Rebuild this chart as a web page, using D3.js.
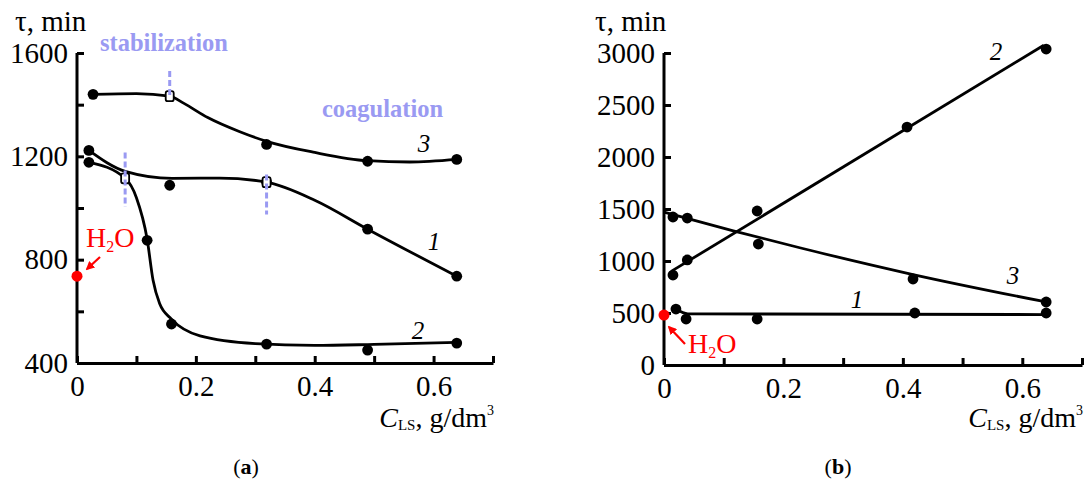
<!DOCTYPE html>
<html>
<head>
<meta charset="utf-8">
<script src="https://cdn.jsdelivr.net/npm/d3@7"></script>
<style>
body{margin:0;background:#fff;}
svg text{font-family:"Liberation Serif","Times New Roman",serif;}
</style>
</head>
<body>
<svg id="chart" width="1084" height="480" font-family="Liberation Serif, serif"></svg>
<script>
// ---- data ----
var xTicks=[0,0.1,0.2,0.3,0.4,0.5,0.6,0.7];
var xLabels=[0,0.2,0.4,0.6];
var yTicksA=[400,600,800,1000,1200,1400,1600];
var yLabelsA=[400,800,1200,1600];
var yTicksB=[0,500,1000,1500,2000,2500,3000];

// panel (a): measured points
var a1x=[0.020,0.156,0.319,0.489,0.639];
var a1y=[1223,1088,1100,918,736];
var a2x=[0.020,0.118,0.159,0.319,0.489,0.639];
var a2y=[1177,875,551,473,450,477];
var a3x=[0.027,0.319,0.489,0.639];
var a3y=[1440,1246,1181,1188];
// panel (a): smooth curves as drawn
var a1cx=[0.020,0.081,0.160,0.240,0.319,0.400,0.489,0.639];
var a1cy=[1223,1142,1115,1116,1100,1030,918,736];
var a2cx=[0.020,0.081,0.100,0.118,0.128,0.139,0.159,0.207,0.300,0.400,0.500,0.639];
var a2cy=[1177,1115,1040,880,720,630,570,505,475,468,472,480];
var a3cx=[0.027,0.100,0.156,0.180,0.220,0.274,0.319,0.400,0.489,0.560,0.639];
var a3cy=[1440,1443,1433,1405,1350,1295,1258,1215,1183,1178,1188];
// open squares = transition points (stabilization -> coagulation)
var sqx=[0.081,0.156,0.319];
var sqy=[1115,1433,1100];
var dashTop=[1215,1530,1130];
var dashBot=[1005,1430,975];

// panel (b): measured points
var b1x=[0.020,0.037,0.156,0.420,0.640];
var b1y=[538,442,442,500,500];
var b2x=[0.015,0.039,0.156,0.407,0.640];
var b2y=[865,1010,1481,2288,3038];
var b3x=[0.015,0.039,0.158,0.417,0.640];
var b3y=[1423,1413,1163,827,606];
// panel (b): fitted lines as drawn
var b1cx=[0.020,0.040,0.640];
var b1cy=[538,492,485];
var b2cx=[0.012,0.636];
var b2cy=[900,3075];
var b3cx=[0.000,0.116,0.229,0.417,0.640];
var b3cy=[1470,1290,1125,870,606];

var waterA=736, waterB=480;

var svg=d3.select("#chart");
var lav="#9a9af2";
var serif="'Liberation Serif','Times New Roman',serif";

var xA=d3.scaleLinear().domain([0,0.7]).range([77,493]);
var yA=d3.scaleLinear().domain([400,1600]).range([363,53]);
var xB=d3.scaleLinear().domain([0,0.7]).range([664,1082]);
var yB=d3.scaleLinear().domain([0,3000]).range([365,53]);

function fmt(v){
	return v==0?"0":(""+v);
}

//draws both axes of a panel with inward ticks
function drawAxes(x,y,yT,yL,y0){
	var gx=svg.append("g").attr("transform","translate(0,"+y0+")")
		.call(d3.axisBottom(x).tickValues(xTicks).tickSize(-7).tickSizeOuter(0).tickPadding(10)
		.tickFormat(function(d){return xLabels.some(function(v){return Math.abs(v-d)<1e-9;})?fmt(d):"";}));
	var gy=svg.append("g").attr("transform","translate("+x(0)+",0)")
		.call(d3.axisLeft(y).tickValues(yT).tickSize(-7).tickSizeOuter(0).tickPadding(9)
		.tickFormat(function(d){return yL.indexOf(d)>=0?d:"";}));
	[gx,gy].forEach(function(g){
		g.attr("font-family",serif);
		g.select(".domain").attr("stroke","#000").attr("stroke-width",3);
		g.selectAll(".tick line").attr("stroke","#000").attr("stroke-width",3);
		g.selectAll("text").attr("fill","#000").style("font-size","29px")
			.style("font-family",serif);
	});
	gx.selectAll("text").attr("dy","0.78em");
	// y axis goes from x axis to top tick
	gy.select(".domain").attr("d","M0,"+y0+"V"+y.range()[1]);
}

function curve(x,y,xs,ys,c){
	var pts=xs.map(function(v,i){return [x(v),y(ys[i])];});
	svg.append("path").attr("d",d3.line().curve(c)(pts))
		.attr("fill","none").attr("stroke","#000").attr("stroke-width",2.8);
}

function dots(x,y,xs,ys){
	svg.append("g").selectAll("circle").data(xs).enter().append("circle")
		.attr("cx",function(d){return x(d);})
		.attr("cy",function(d,i){return y(ys[i]);})
		.attr("r",5.4).attr("fill","#000");
}

function label(px,py,t){
	svg.append("text").attr("x",px).attr("y",py).text(t)
		.style("font-size","25px").style("font-style","italic").attr("text-anchor","middle");
}

function axisTitles(xr,yb,tx,ty){
	svg.append("text").attr("x",tx).attr("y",ty).text("τ, min").style("font-size","29px");
	var t=svg.append("text").attr("x",xr).attr("y",yb).attr("text-anchor","end").style("font-size","28px");
	t.append("tspan").text("C").style("font-style","italic");
	t.append("tspan").text("LS").style("font-size","15px").attr("dy","3");
	t.append("tspan").text(", g/dm").attr("dy","-3");
	t.append("tspan").text("3").style("font-size","14px").attr("dy","-12");
}

function water(px,py,lx,ly,ax1,ay1,ax2,ay2){
	svg.append("line").attr("x1",ax1).attr("y1",ay1).attr("x2",ax2).attr("y2",ay2)
		.attr("stroke","red").attr("stroke-width",2.2).attr("marker-end","url(#arr)");
	svg.append("circle").attr("cx",px).attr("cy",py).attr("r",5.5).attr("fill","red");
	var t=svg.append("text").attr("x",lx).attr("y",ly).attr("fill","red").style("font-size","28px");
	t.append("tspan").text("H");
	t.append("tspan").text("2").style("font-size","16px").attr("dy","5");
	t.append("tspan").text("O").attr("dy","-5");
}

svg.append("defs").append("marker").attr("id","arr").attr("viewBox","0 0 10 10")
	.attr("refX",8).attr("refY",5).attr("markerWidth",4).attr("markerHeight",4).attr("orient","auto")
	.append("path").attr("d","M0,0L10,5L0,10z").attr("fill","red");

// ---------- panel (a) ----------
drawAxes(xA,yA,yTicksA,yLabelsA,363);
axisTitles(494,427,15,31);
curve(xA,yA,a1cx,a1cy,d3.curveMonotoneX);
curve(xA,yA,a2cx,a2cy,d3.curveMonotoneX);
curve(xA,yA,a3cx,a3cy,d3.curveMonotoneX);
dots(xA,yA,a1x,a1y);
dots(xA,yA,a2x,a2y);
dots(xA,yA,a3x,a3y);
// transition squares and dashed markers
sqx.forEach(function(v,i){
	svg.append("rect").attr("x",xA(v)-4).attr("y",yA(sqy[i])-5).attr("width",8).attr("height",10)
		.attr("rx",2).attr("fill","#fff").attr("stroke","#000").attr("stroke-width",1.8);
	svg.append("line").attr("x1",xA(v)).attr("x2",xA(v)).attr("y1",yA(dashTop[i])).attr("y2",yA(dashBot[i]))
		.attr("stroke",lav).attr("stroke-width",3).attr("stroke-dasharray","6,3");
});
svg.append("text").attr("x",100).attr("y",51).text("stabilization").attr("fill",lav)
	.style("font-size","24.5px").style("font-weight","bold");
svg.append("text").attr("x",322).attr("y",117).text("coagulation").attr("fill",lav)
	.style("font-size","24.5px").style("font-weight","bold");
label(424,152,"3");
label(434,250,"1");
label(418,339,"2");
water(xA(0),yA(waterA),86,247,100,257,87,269);

// ---------- panel (b) ----------
drawAxes(xB,yB,yTicksB,yTicksB,365);
axisTitles(1083,427,595,31);
curve(xB,yB,b1cx,b1cy,d3.curveMonotoneX);
curve(xB,yB,b2cx,b2cy,d3.curveLinear);
curve(xB,yB,b3cx,b3cy,d3.curveMonotoneX);
dots(xB,yB,b1x,b1y);
dots(xB,yB,b2x,b2y);
dots(xB,yB,b3x,b3y);
label(996,60,"2");
label(1013,284,"3");
label(857,308,"1");
water(xB(0),yB(waterB),688,353,685,344,669,327);

// panel letters
[["a",246],["b",838]].forEach(function(p){
	var t=svg.append("text").attr("x",p[1]).attr("y",474).attr("text-anchor","middle").style("font-size","22px");
	t.append("tspan").text("(");
	t.append("tspan").text(p[0]).style("font-weight","bold");
	t.append("tspan").text(")");
});
</script>
</body>
</html>
